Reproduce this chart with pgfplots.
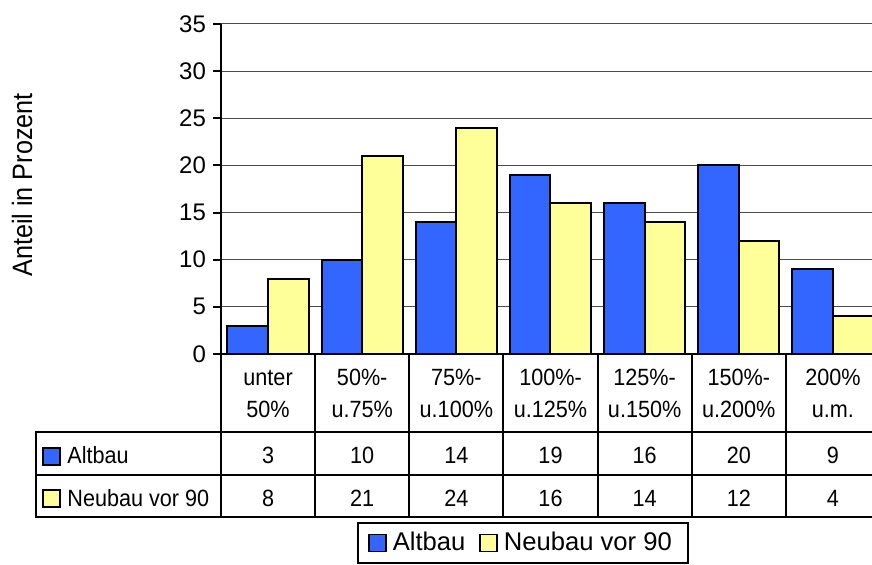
\documentclass[border=0pt]{standalone}
\usepackage{pgfplots}
\pgfplotsset{compat=1.18}
\usepackage{fontspec}
\setmainfont{Liberation Sans}
\newfontfamily\tabfam[FakeStretch=0.92]{Liberation Sans}
\newfontfamily\titfam[FakeStretch=0.9]{Liberation Sans}
\definecolor{cblue}{HTML}{3366FF}
\definecolor{cyellow}{HTML}{FFFF99}
\newcommand{\tickf}{\fontsize{12}{14}\selectfont}
\newcommand{\legf}{\fontsize{12.8}{15}\selectfont}
\newcommand{\tabf}{\tabfam\fontsize{11.75}{14}\selectfont}
\newcommand{\titf}{\titfam\fontsize{14}{16}\selectfont}
\begin{document}
\begin{tikzpicture}
\path[use as bounding box] (0pt,0pt) rectangle (436pt,282.5pt);
\clip (0pt,0pt) rectangle (436pt,282.5pt);
\begin{axis}[
  at={(110.5pt,105.5pt)}, anchor=south west, scale only axis,
  width=329.5pt, height=165pt,
  xmin=-0.5, xmax=6.5, ymin=0, ymax=35,
  xtick=\empty, ytick={0,5,...,35},
  axis y line*=left, axis x line*=bottom,
  axis line style={line width=1pt},
  tick align=outside, major tick length=4pt,
  ytick style={line width=1pt, black},
  ymajorgrids, grid style={black!70, line width=0.5pt},
  tick label style={font=\tickf},
  /pgf/number format/assume math mode=true,
  legend columns=2,
  legend style={at={(0.4583,-0.5727)}, anchor=center, draw=black, line width=0.8pt,
    font=\legf, inner xsep=5pt, inner ysep=1.5pt,
    nodes={inner xsep=3pt, inner ysep=3pt},
    /tikz/every even column/.append style={column sep=4pt}},
]
\addplot[ybar, bar width=0.432, bar shift=-0.216, fill=cblue, draw=black, line width=1pt,
  legend image code/.code={\draw[fill=cblue,draw=black,line width=0.8pt] (0pt,-4.25pt) rectangle (8.5pt,4.25pt);}]
  coordinates {(0,3) (1,10) (2,14) (3,19) (4,16) (5,20) (6,9)};
\addlegendentry{Altbau}
\addplot[ybar, bar width=0.432, bar shift=0.216, fill=cyellow, draw=black, line width=1pt,
  legend image code/.code={\draw[fill=cyellow,draw=black,line width=0.8pt] (0pt,-4.25pt) rectangle (8.5pt,4.25pt);}]
  coordinates {(0,8) (1,21) (2,24) (3,16) (4,14) (5,12) (6,4)};
\addlegendentry{Neubau vor 90}
\end{axis}
\begin{scope}[x=0.5pt,y=0.5pt]
% y title
\node[rotate=90, font=\titf] at (22,380) {Anteil in Prozent};
% table lines
\draw[line width=1pt] (221,211) -- (880,211);
\foreach \y in {133,90,48} \draw[line width=1pt] (36,\y) -- (880,\y);
\draw[line width=1pt] (36,134) -- (36,47);
\foreach \k in {0,...,7} \draw[line width=1pt] ({221+94.142857*\k},211.5) -- ({221+94.142857*\k},47);
% category labels
\foreach \k/\a/\b in {0/unter/50\%, 1/50\%-/u.75\%, 2/75\%-/u.100\%, 3/100\%-/u.125\%, 4/125\%-/u.150\%, 5/150\%-/u.200\%, 6/200\%/u.m.}{
  \node[anchor=base, inner sep=0pt, font=\tabf] at ({268.07+94.142857*\k},179) {\a};
  \node[anchor=base, inner sep=0pt, font=\tabf] at ({268.07+94.142857*\k},147) {\b};
}
% values
\foreach \k/\a/\b in {0/3/8, 1/10/21, 2/14/24, 3/19/16, 4/16/14, 5/20/12, 6/9/4}{
  \node[anchor=base, inner sep=0pt, font=\tabf] at ({268.07+94.142857*\k},101) {\a};
  \node[anchor=base, inner sep=0pt, font=\tabf] at ({268.07+94.142857*\k},58.5) {\b};
}
% row headers
\draw[fill=cblue, line width=0.8pt] (43,100) rectangle (60,117);
\draw[fill=cyellow, line width=0.8pt] (43,58) rectangle (60,75);
\node[anchor=base west, inner sep=0pt, font=\tabf] at (67,101) {Altbau};
\node[anchor=base west, inner sep=0pt, font=\tabf] at (67,58.5) {Neubau vor 90};
\end{scope}
\end{tikzpicture}
\end{document}
